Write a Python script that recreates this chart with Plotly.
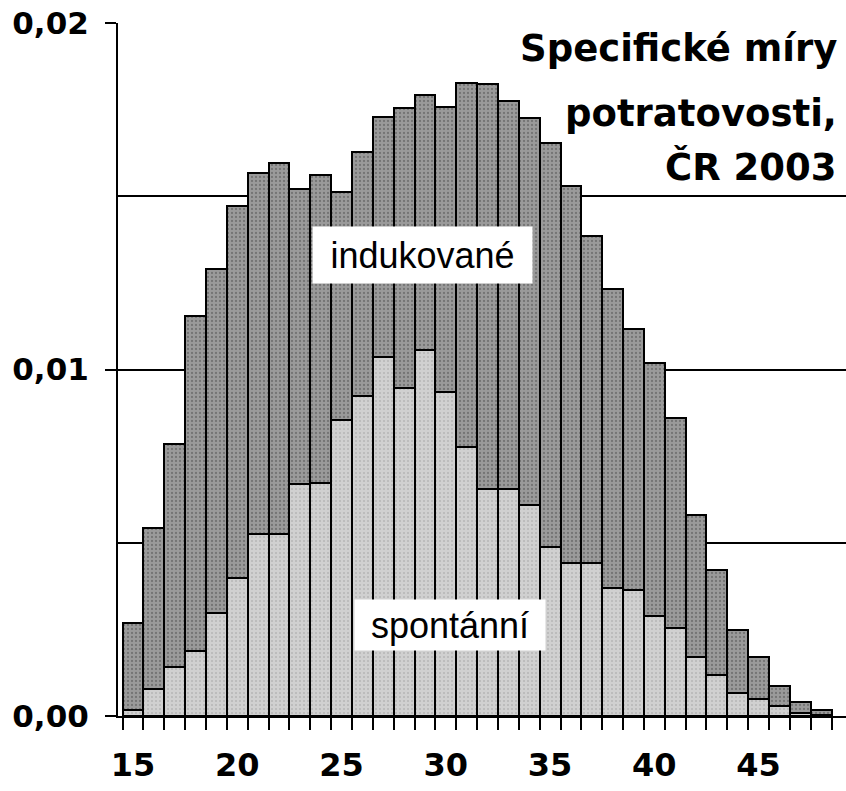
import plotly.graph_objects as go

ages = list(range(15, 49))
spontanni = [0.00017, 0.00079, 0.00141, 0.00188, 0.00296, 0.00399, 0.00526, 0.00526,
             0.00669, 0.00672, 0.00855, 0.00924, 0.01036, 0.00946, 0.01057, 0.00936,
             0.00776, 0.00655, 0.00654, 0.00610, 0.00489, 0.00442, 0.00441, 0.00368,
             0.00363, 0.00288, 0.00253, 0.00171, 0.00119, 0.00066, 0.00050, 0.00028,
             0.00010, 0.00003]
indukovane = [0.00251, 0.00463, 0.00643, 0.00966, 0.00995, 0.01072, 0.01041, 0.01071,
              0.00852, 0.00890, 0.00656, 0.00703, 0.00692, 0.00810, 0.00735, 0.00821,
              0.01052, 0.01168, 0.01121, 0.01115, 0.01166, 0.01087, 0.00943, 0.00865,
              0.00754, 0.00732, 0.00607, 0.00409, 0.00303, 0.00183, 0.00121, 0.00060,
              0.00030, 0.00014]
x_ticks = [15, 20, 25, 30, 35, 40, 45]
y_ticks = [0.0, 0.01, 0.02]
title_lines = ["Specifické míry", "potratovosti,", "ČR 2003"]

W, H = 846, 791
L, R, T, B = 118, 846, 23, 716

def px(x):
    return (x - L) / (R - L)

def py(y):
    return (B - y) / (B - T)

fig = go.Figure()
fig.add_trace(go.Bar(x=ages, y=spontanni, name="spontánní",
                     marker=dict(color="#c8c8c8", line=dict(color="black", width=2),
                                 pattern=dict(shape=".", size=4, solidity=0.2,
                                              fgcolor="#9a9a9a", bgcolor="#d0d0d0"))))
fig.add_trace(go.Bar(x=ages, y=indukovane, name="indukované",
                     marker=dict(color="#8a8a8a", line=dict(color="black", width=2),
                                 pattern=dict(shape=".", size=4, solidity=0.25,
                                              fgcolor="#4e4e4e", bgcolor="#9a9a9a"))))

bold = dict(family="DejaVu Sans", color="black", weight="bold")

fig.update_layout(
    width=W, height=H,
    margin=dict(l=L, r=W - R, t=T, b=H - B, pad=0),
    paper_bgcolor="white", plot_bgcolor="white",
    barmode="stack", bargap=0, showlegend=False,
    separators=", ",
    xaxis=dict(range=[14.28, 49.19], tickmode="array", tickvals=x_ticks,
               ticktext=[str(v) for v in x_ticks], ticks="", showgrid=False,
               showline=True, linecolor="black", linewidth=2, zeroline=False,
               automargin=False, ticklabeloverflow="allow",
               tickfont=dict(size=32, **bold), ticklabelstandoff=20,
               minor=dict(tickmode="linear", tick0=14.5, dtick=1, ticks="outside",
                          ticklen=12, tickwidth=2, tickcolor="black", showgrid=False)),
    yaxis=dict(range=[0, 0.02], tickmode="array", tickvals=y_ticks, tickformat=".2f",
               ticks="outside", ticklen=11, tickwidth=2, tickcolor="black",
               showline=True, linecolor="black", linewidth=2, zeroline=False,
               automargin=False, ticklabeloverflow="allow",
               showgrid=True, gridcolor="black", gridwidth=1.5,
               tickfont=dict(size=31, **bold), ticklabelstandoff=10,
               minor=dict(tickmode="linear", tick0=0, dtick=0.005, showgrid=True,
                          gridcolor="black", gridwidth=1.5, ticks="")),
)

title_y = [49, 114, 167]
for txt, yy in zip(title_lines, title_y):
    fig.add_annotation(text=txt, xref="paper", yref="paper", x=px(839), y=py(yy),
                       xanchor="right", yanchor="middle", showarrow=False,
                       font=dict(size=37, **bold))

fig.add_annotation(text="indukované", xref="paper", yref="paper", x=px(422.5), y=py(255),
                   xanchor="center", yanchor="middle", showarrow=False,
                   bgcolor="white", width=219, height=56, borderpad=0,
                   font=dict(family="Liberation Sans", size=36, color="black"))
fig.add_annotation(text="spontánní", xref="paper", yref="paper", x=px(450), y=py(625),
                   xanchor="center", yanchor="middle", showarrow=False,
                   bgcolor="white", width=190, height=50, borderpad=0,
                   font=dict(family="Liberation Sans", size=36, color="black"))

fig.write_html("out.html", config={"displayModeBar": False},
               post_script="document.body.style.margin='0';document.body.style.overflow='hidden';")
